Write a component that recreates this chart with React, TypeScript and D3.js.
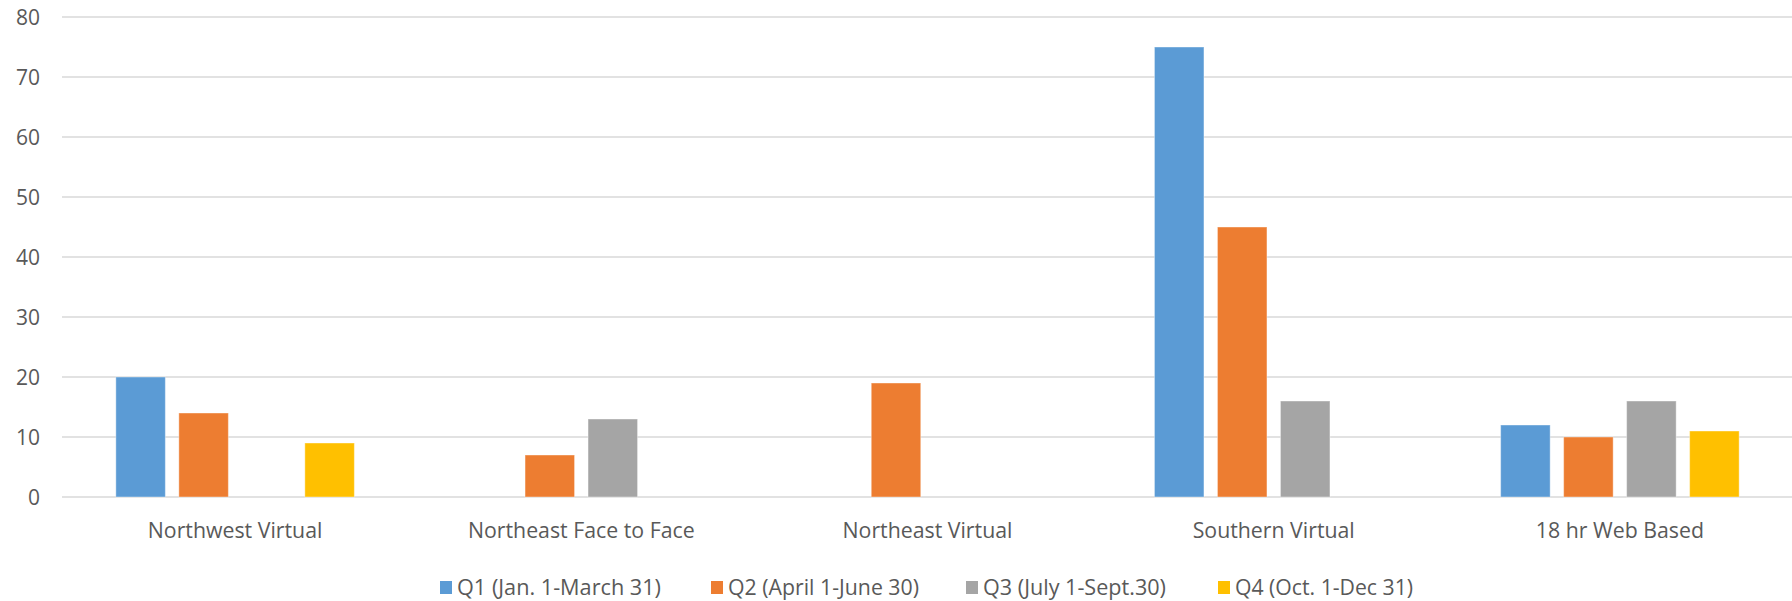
import React from "react";
import * as d3 from "d3";

const categories = [
  "Northwest Virtual",
  "Northeast Face to Face",
  "Northeast Virtual",
  "Southern Virtual",
  "18 hr Web Based",
];
const seriesNames = [
  "Q1 (Jan. 1-March 31)",
  "Q2 (April 1-June 30)",
  "Q3 (July 1-Sept.30)",
  "Q4 (Oct. 1-Dec 31)",
];
const q1Values: (number | null)[] = [20, null, null, 75, 12];
const q2Values: (number | null)[] = [14, 7, 19, 45, 10];
const q3Values: (number | null)[] = [null, 13, null, 16, 16];
const q4Values: (number | null)[] = [9, null, null, null, 11];
const seriesColors = ["#5b9bd5", "#ed7d31", "#a5a5a5", "#ffc000"];
const yTicks = [0, 10, 20, 30, 40, 50, 60, 70, 80];

const W = 1792;
const H = 601;
const plotLeft = 62;
const plotRight = 1793;
const plotTop = 17;
const plotBottom = 497;
const FONT = "'Open Sans', 'Noto Sans', sans-serif";
const TEXT = "#595959";

// legend text widths (measured)
const legendTextWidths = [204, 191, 183, 178];
const legendSquareX = [440, 711, 966, 1218];

export default function App() {
  const allSeries = [q1Values, q2Values, q3Values, q4Values];
  const x0 = d3.scaleBand<string>().domain(categories).range([plotLeft, plotRight]);
  const x1 = d3
    .scaleBand<string>()
    .domain(seriesNames)
    .range([-126, 126])
    .paddingInner(0.214)
    .paddingOuter(0.107);
  const y = d3.scaleLinear().domain([0, 80]).range([plotBottom, plotTop]);

  return (
    <svg
      width={W}
      height={H}
      style={{ position: "absolute", left: 0, top: 0, background: "#fff" }}
      fontFamily={FONT}
    >
      <rect width={W} height={H} fill="#fff" />
      {yTicks.map((t) => (
        <g key={t}>
          <line
            x1={plotLeft}
            x2={W}
            y1={y(t)}
            y2={y(t)}
            stroke="#d9d9d9"
            strokeWidth={1.5}
          />
          <text
            x={40}
            y={y(t)}
            dy="0.36em"
            textAnchor="end"
            fontSize={21}
            fill={TEXT}
          >
            {t}
          </text>
        </g>
      ))}
      {categories.map((c, ci) => {
        const cx = (x0(c) as number) + x0.bandwidth() / 2;
        return (
          <g key={c}>
            {allSeries.map((vals, si) => {
              const v = vals[ci];
              if (v == null) return null;
              const bx = cx + (x1(seriesNames[si]) as number);
              return (
                <rect
                  key={si}
                  x={bx}
                  y={y(v)}
                  width={x1.bandwidth()}
                  height={y(0) - y(v)}
                  fill={seriesColors[si]}
                  stroke="#ffffff"
                  strokeOpacity={0.4}
                  strokeWidth={1}
                />
              );
            })}
            <text
              x={cx}
              y={530}
              dy="0.36em"
              textAnchor="middle"
              fontSize={21.3}
              fill={TEXT}
            >
              {c}
            </text>
          </g>
        );
      })}
      {seriesNames.map((s, si) => (
        <g key={s}>
          <rect
            x={legendSquareX[si]}
            y={581}
            width={12}
            height={13}
            fill={seriesColors[si]}
          />
          <text
            x={legendSquareX[si] + 17}
            y={587.5}
            dy="0.36em"
            fontSize={21}
            fill={TEXT}
            textLength={legendTextWidths[si]}
            lengthAdjust="spacingAndGlyphs"
          >
            {s}
          </text>
        </g>
      ))}
    </svg>
  );
}
